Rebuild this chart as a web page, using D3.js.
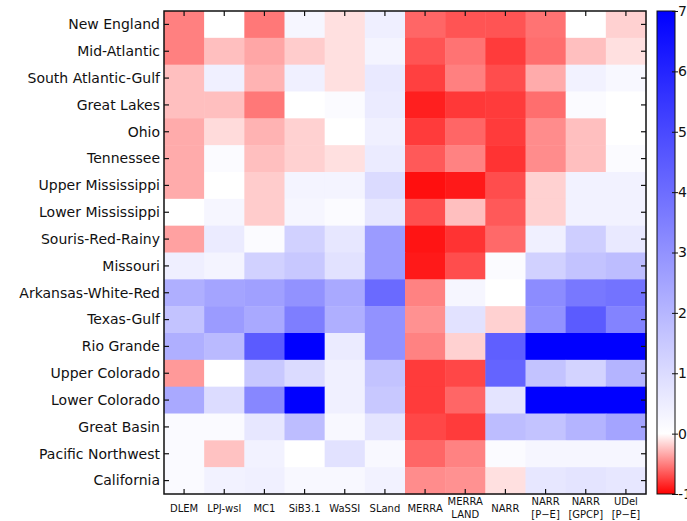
<!DOCTYPE html>
<html>
<head>
<meta charset="utf-8">
<script src="https://cdn.jsdelivr.net/npm/d3@7"></script>
<style>
  html, body { margin: 0; padding: 0; background: #fff; }
  svg { display: block; }
  .lbl { font-family: "DejaVu Sans", sans-serif; fill: #111; }
</style>
</head>
<body>
<svg id="chart" width="687" height="521"></svg>
<script>
// Basins (rows) and data products (columns)
const basins = [
  "New England", "Mid-Atlantic", "South Atlantic-Gulf", "Great Lakes", "Ohio",
  "Tennessee", "Upper Mississippi", "Lower Mississippi", "Souris-Red-Rainy",
  "Missouri", "Arkansas-White-Red", "Texas-Gulf", "Rio Grande", "Upper Colorado",
  "Lower Colorado", "Great Basin", "Pacific Northwest", "California"
];
const products = [
  ["DLEM"], ["LPJ-wsl"], ["MC1"], ["SiB3.1"], ["WaSSI"], ["SLand"], ["MERRA"],
  ["MERRA", "LAND"], ["NARR"], ["NARR", "[P\u2212E]"], ["NARR", "[GPCP]"], ["UDel", "[P\u2212E]"]
];

// One row of values per basin, one entry per product
const values = [
  [-0.50,  0.00, -0.53,  0.25, -0.12, 0.45, -0.60, -0.67, -0.67, -0.55,  0.00, -0.18],
  [-0.50, -0.25, -0.35, -0.20, -0.12, 0.30, -0.67, -0.55, -0.77, -0.57, -0.25, -0.12],
  [-0.25,  0.40, -0.30,  0.40, -0.12, 0.60, -0.75, -0.50, -0.70, -0.33,  0.35,  0.20],
  [-0.25, -0.25, -0.53,  0.00,  0.10, 0.55, -0.88, -0.78, -0.77, -0.57,  0.10,  0.00],
  [-0.33, -0.14, -0.30, -0.18,  0.00, 0.40, -0.77, -0.60, -0.77, -0.45, -0.25,  0.00],
  [-0.33,  0.10, -0.25, -0.18, -0.12, 0.55, -0.65, -0.49, -0.80, -0.45, -0.25,  0.10],
  [-0.33,  0.00, -0.20,  0.30,  0.30, 1.00, -0.94, -0.90, -0.70, -0.18,  0.35,  0.35],
  [ 0.00,  0.25, -0.20,  0.25,  0.10, 0.65, -0.69, -0.25, -0.65, -0.18,  0.35,  0.35],
  [-0.37,  0.55,  0.10,  1.25,  0.65, 2.75, -0.92, -0.80, -0.59,  0.40,  1.35,  0.60],
  [ 0.45,  0.30,  1.25,  1.50,  0.80, 2.75, -0.90, -0.70,  0.10,  1.25,  1.65,  1.80],
  [ 2.20,  2.50,  2.60,  3.00,  2.35, 4.10, -0.49,  0.25,  0.00,  3.15,  3.70,  3.85],
  [ 1.65,  2.75,  2.35,  3.55,  2.20, 3.00, -0.43,  0.80, -0.18,  3.00,  4.50,  3.40],
  [ 2.20,  1.90,  4.50,  7.00,  0.55, 3.00, -0.49, -0.18,  4.40,  7.00,  7.00,  7.00],
  [-0.40,  0.00,  1.50,  1.00,  0.40, 1.65, -0.77, -0.72,  4.25,  1.65,  1.20,  2.05],
  [ 2.35,  0.95,  3.30,  7.00,  0.40, 1.50, -0.77, -0.60,  0.75,  7.00,  7.00,  7.00],
  [ 0.15,  0.15,  0.65,  1.80,  0.20, 0.75, -0.72, -0.77,  1.80,  1.65,  2.05,  2.50],
  [ 0.15, -0.24,  0.35,  0.00,  0.80, 0.20, -0.60, -0.49,  0.10,  0.25,  0.25,  0.25],
  [ 0.15,  0.35,  0.40,  0.20,  0.20, 0.35, -0.45, -0.43, -0.12,  0.65,  0.75,  0.65]
];

const colorTicks = [-1, 0, 1, 2, 3, 4, 5, 6, 7];
const colorTickLabels = ["-1", "0", "1", "2", "3", "4", "5", "6", "7"];

const svg = d3.select("#chart");
const plot = { left: 164, right: 646, top: 11, bottom: 494 };
const bar = { left: 657, right: 675 };

const x = d3.scaleBand().domain(d3.range(products.length)).range([plot.left, plot.right]);
const y = d3.scaleBand().domain(basins).range([plot.top, plot.bottom]);
const color = d3.scaleLinear().domain([-1, 0, 7]).range(["#ff0000", "#ffffff", "#0000ff"]).clamp(true);

// Heatmap cells
const cells = [];
values.forEach((row, i) => row.forEach((v, j) => cells.push({ basin: basins[i], col: j, v })));
svg.append("g").selectAll("rect").data(cells).join("rect")
  .attr("x", d => x(d.col))
  .attr("y", d => y(d.basin))
  .attr("width", x.bandwidth() + 0.5)
  .attr("height", y.bandwidth() + 0.5)
  .attr("fill", d => color(d.v));

// Inward tick marks on all four sides
const tickLen = 5;
svg.append("g").attr("transform", `translate(0,${plot.bottom})`)
  .call(d3.axisBottom(x).tickSize(-tickLen).tickFormat("").tickSizeOuter(0));
svg.append("g").attr("transform", `translate(0,${plot.top})`)
  .call(d3.axisTop(x).tickSize(-tickLen).tickFormat("").tickSizeOuter(0));
svg.append("g").attr("transform", `translate(${plot.left},0)`)
  .call(d3.axisLeft(y).tickSize(-tickLen).tickFormat("").tickSizeOuter(0));
svg.append("g").attr("transform", `translate(${plot.right},0)`)
  .call(d3.axisRight(y).tickSize(-tickLen).tickFormat("").tickSizeOuter(0));
svg.selectAll(".domain").remove();
svg.selectAll(".tick line").attr("stroke", "#111").attr("stroke-width", 1.2);

// Frame
svg.append("rect")
  .attr("x", plot.left).attr("y", plot.top)
  .attr("width", plot.right - plot.left).attr("height", plot.bottom - plot.top)
  .attr("fill", "none").attr("stroke", "#111").attr("stroke-width", 1.5);

// Row labels
svg.append("g").selectAll("text").data(basins).join("text")
  .attr("class", "lbl")
  .attr("x", plot.left - 4)
  .attr("y", d => y(d) + y.bandwidth() / 2)
  .attr("dy", "0.35em")
  .attr("text-anchor", "end")
  .style("font-size", "14px")
  .text(d => d);

// Column labels (one or two lines)
const colLbl = svg.append("g").selectAll("text").data(products).join("text")
  .attr("class", "lbl")
  .attr("text-anchor", "middle")
  .style("font-size", "10px")
  .attr("x", (d, i) => x(i) + x.bandwidth() / 2)
  .attr("y", d => d.length === 1 ? 512 : 505);
colLbl.selectAll("tspan").data(d => d).join("tspan")
  .attr("x", function () { return d3.select(this.parentNode).attr("x"); })
  .attr("dy", (d, k) => k === 0 ? 0 : 13)
  .text(d => d);

// Colour bar
const cb = d3.scaleLinear().domain([-1, 7]).range([plot.bottom, plot.top]);
const grad = svg.append("defs").append("linearGradient")
  .attr("id", "cbGrad").attr("x1", 0).attr("x2", 0).attr("y1", 1).attr("y2", 0);
grad.selectAll("stop").data(colorTicks).join("stop")
  .attr("offset", d => (d + 1) / 8)
  .attr("stop-color", d => color(d));
svg.append("rect")
  .attr("x", bar.left).attr("y", plot.top)
  .attr("width", bar.right - bar.left).attr("height", plot.bottom - plot.top)
  .attr("fill", "url(#cbGrad)")
  .attr("stroke", "#111").attr("stroke-width", 1);
const cbAxis = svg.append("g").attr("transform", `translate(${bar.right},0)`)
  .call(d3.axisRight(cb).tickValues(colorTicks).tickSize(3).tickSizeOuter(0)
    .tickFormat((d, i) => colorTickLabels[i]));
cbAxis.select(".domain").remove();
cbAxis.selectAll(".tick line").attr("stroke", "#111").attr("x1", -3);
cbAxis.selectAll(".tick text")
  .attr("class", "lbl")
  .attr("x", 3)
  .style("font-size", "14px")
  .style("font-family", "DejaVu Sans, sans-serif");
</script>
</body>
</html>
